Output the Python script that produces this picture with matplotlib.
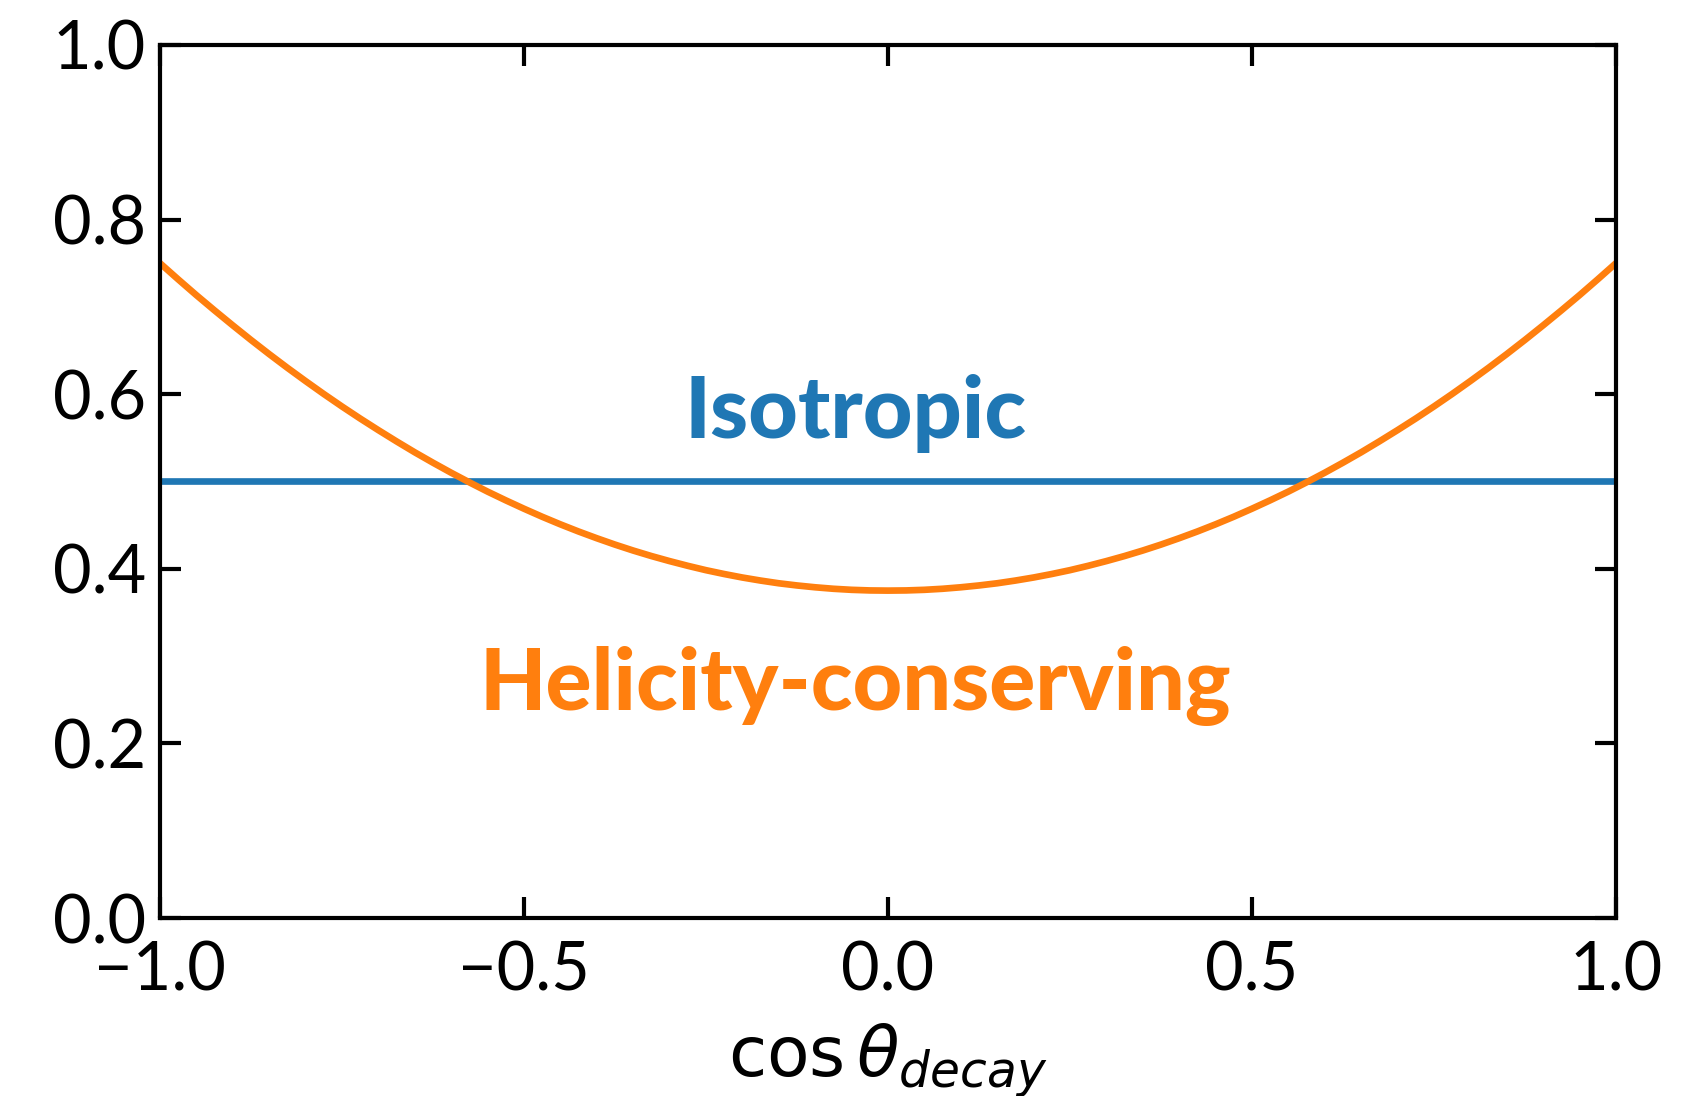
import matplotlib
matplotlib.use('Agg')
import matplotlib.pyplot as plt

plt.rcParams['font.family'] = ['Lato', 'DejaVu Sans']
plt.rcParams['mathtext.fontset'] = 'dejavusans'

# curve values
cos_theta = [-1.0, -0.975, -0.95, -0.925, -0.9, -0.875, -0.85, -0.825, -0.8, -0.775,
             -0.75, -0.725, -0.7, -0.675, -0.65, -0.625, -0.6, -0.575, -0.55, -0.525,
             -0.5, -0.475, -0.45, -0.425, -0.4, -0.375, -0.35, -0.325, -0.3, -0.275,
             -0.25, -0.225, -0.2, -0.175, -0.15, -0.125, -0.1, -0.075, -0.05, -0.025,
             0.0,
             0.025, 0.05, 0.075, 0.1, 0.125, 0.15, 0.175, 0.2, 0.225, 0.25,
             0.275, 0.3, 0.325, 0.35, 0.375, 0.4, 0.425, 0.45, 0.475, 0.5,
             0.525, 0.55, 0.575, 0.6, 0.625, 0.65, 0.675, 0.7, 0.725, 0.75,
             0.775, 0.8, 0.825, 0.85, 0.875, 0.9, 0.925, 0.95, 0.975, 1.0]
helicity = [0.7500, 0.7315, 0.7134, 0.6959, 0.6788, 0.6621, 0.6459, 0.6302, 0.6150, 0.6002,
            0.5859, 0.5721, 0.5588, 0.5459, 0.5334, 0.5215, 0.5100, 0.4990, 0.4884, 0.4784,
            0.4688, 0.4596, 0.4509, 0.4427, 0.4350, 0.4277, 0.4209, 0.4146, 0.4088, 0.4034,
            0.3984, 0.3940, 0.3900, 0.3865, 0.3834, 0.3809, 0.3788, 0.3771, 0.3759, 0.3752,
            0.3750,
            0.3752, 0.3759, 0.3771, 0.3788, 0.3809, 0.3834, 0.3865, 0.3900, 0.3940, 0.3984,
            0.4034, 0.4088, 0.4146, 0.4209, 0.4277, 0.4350, 0.4427, 0.4509, 0.4596, 0.4688,
            0.4784, 0.4884, 0.4990, 0.5100, 0.5215, 0.5334, 0.5459, 0.5588, 0.5721, 0.5859,
            0.6002, 0.6150, 0.6302, 0.6459, 0.6621, 0.6788, 0.6959, 0.7134, 0.7315, 0.7500]
iso_x = [-1.0, 1.0]
iso_y = [0.5, 0.5]

blue = '#1f77b4'
orange = '#ff7f0e'

fig = plt.figure(figsize=(16.91, 10.96), dpi=100)
ax = fig.add_axes([0.0946, 0.1624, 0.861, 0.7966])

ax.plot(iso_x, iso_y, color=blue, lw=4.8)
ax.plot(cos_theta, helicity, color=orange, lw=4.8, solid_joinstyle='round')

ax.text(-0.045, 0.578, 'Isotropic', color=blue, fontsize=62, fontweight='black',
        ha='center', va='center')
ax.text(-0.045, 0.266, 'Helicity-conserving', color=orange, fontsize=62,
        fontweight='black', ha='center', va='center')

ax.set_xlim(-1, 1)
ax.set_ylim(0, 1)
ax.set_xticks([-1.0, -0.5, 0.0, 0.5, 1.0])
ax.set_yticks([0.0, 0.2, 0.4, 0.6, 0.8, 1.0])
ax.tick_params(direction='in', top=True, right=True, length=15, width=3,
               labelsize=48, pad=10)
ax.tick_params(axis='x', pad=16)
for s in ax.spines.values():
    s.set_linewidth(3)
ax.set_xlabel(r'$\cos\theta_{decay}$', fontsize=50, labelpad=14)

plt.savefig('out.png', dpi=100)
